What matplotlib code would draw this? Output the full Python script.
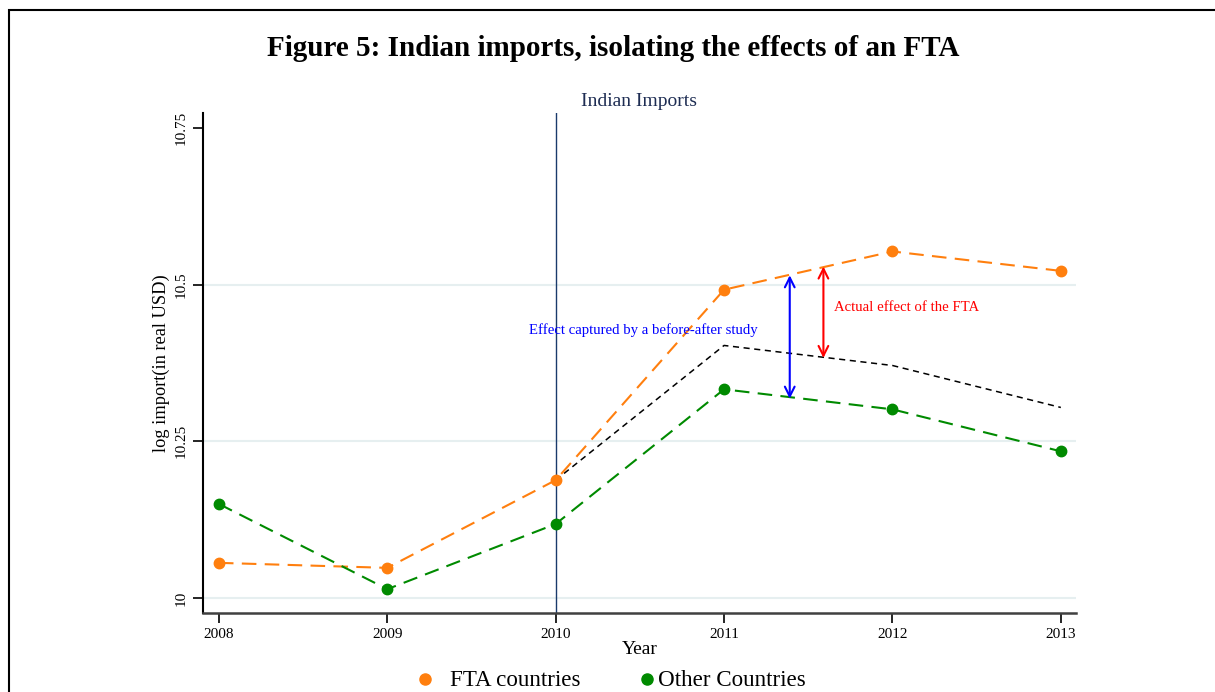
import matplotlib.pyplot as plt
from matplotlib.lines import Line2D
from matplotlib.patches import Rectangle

plt.rcParams["font.family"] = ["Liberation Serif", "DejaVu Serif"]

years = [2008, 2009, 2010, 2011, 2012, 2013]
fta = [10.056, 10.048, 10.188, 10.492, 10.553, 10.522]
other = [10.150, 10.014, 10.118, 10.333, 10.301, 10.234]
# counterfactual path for FTA countries, following the other countries from 2010
cf_years = [2010, 2011, 2012, 2013]
counterfactual = [10.188, 10.403, 10.371, 10.304]

yticks = [10, 10.25, 10.5, 10.75]
ytick_labels = ["10", "10.25", "10.5", "10.75"]

C_FTA = "#ff7f0e"
C_OTH = "#008a00"
C_NAVY = "#1a3a6b"

fig = plt.figure(figsize=(12.15, 6.92), dpi=100, facecolor="white")
ax = fig.add_axes([0.167, 0.1142, 0.7186, 0.7225])

# outer frame
fig.add_artist(Rectangle((9 / 1215, -0.1), 1.2, 1 - 10 / 692 + 0.1, transform=fig.transFigure,
                         fill=False, edgecolor="black", linewidth=1.5))

for y in [10, 10.25, 10.5]:
    ax.axhline(y, color="#e6eff0", linewidth=1.5, zorder=0)

ax.axvline(2010, color=C_NAVY, linewidth=1.0, zorder=1)

ax.plot(years, fta, color=C_FTA, linestyle=(0, (7, 4)), linewidth=1.5,
        marker="o", markersize=7.5, zorder=3)
ax.plot(years, other, color=C_OTH, linestyle=(0, (7, 4)), linewidth=1.5,
        marker="o", markersize=7.5, zorder=3)
ax.plot(cf_years, counterfactual, color="black", linestyle=(0, (4, 3)), linewidth=1.1, zorder=2)

# effect arrows
arrow_style = "<->,head_length=0.7,head_width=0.35"
ax.annotate("", xy=(2011.39, 10.515), xytext=(2011.39, 10.318),
            arrowprops=dict(arrowstyle=arrow_style, color="blue", lw=1.5, shrinkA=0, shrinkB=0))
ax.annotate("", xy=(2011.59, 10.529), xytext=(2011.59, 10.383),
            arrowprops=dict(arrowstyle=arrow_style, color="red", lw=1.5, shrinkA=0, shrinkB=0))
ax.text(2010.52, 10.428, "Effect captured by a before-after study", color="blue",
        fontsize=10.6, ha="center", va="center", zorder=4)
ax.text(2011.65, 10.463, "Actual effect of the FTA", color="red",
        fontsize=10.6, ha="left", va="center")

ax.set_xlim(2007.905, 2013.09)
ax.set_ylim(9.976, 10.774)
ax.set_xticks(years)
ax.set_xticklabels([str(y) for y in years], fontsize=11)
ax.set_yticks(yticks)
ax.set_yticklabels(ytick_labels, fontsize=11, rotation=90, va="center")
ax.tick_params(direction="out", length=7, width=1.2, pad=4)
ax.spines["top"].set_visible(False)
ax.spines["right"].set_visible(False)
ax.spines["left"].set_linewidth(1.5)
ax.spines["bottom"].set_linewidth(1.8)
ax.spines["bottom"].set_color("#404040")

ax.set_xlabel("Year", fontsize=14, labelpad=0)
ax.set_ylabel("log import(in real USD)", fontsize=13.2, labelpad=3)
ax.set_title("Indian Imports", fontsize=14, color="#1e2d53", pad=5)

fig.text(0.505, 0.93, "Figure 5: Indian imports, isolating the effects of an FTA",
         fontsize=21, fontweight="bold", ha="center", va="center")

# legend row
fig.add_artist(Line2D([425 / 1215], [1 - 679 / 692], marker="o", color=C_FTA,
                      markersize=8, linestyle="none", transform=fig.transFigure))
fig.text(450 / 1215, 1 - 681 / 692, "FTA countries", fontsize=16.6, ha="left", va="center")
fig.add_artist(Line2D([647 / 1215], [1 - 679 / 692], marker="o", color=C_OTH,
                      markersize=8, linestyle="none", transform=fig.transFigure))
fig.text(658 / 1215, 1 - 681 / 692, "Other Countries", fontsize=16.6, ha="left", va="center")

fig.savefig("out.png", dpi=100, facecolor="white")
